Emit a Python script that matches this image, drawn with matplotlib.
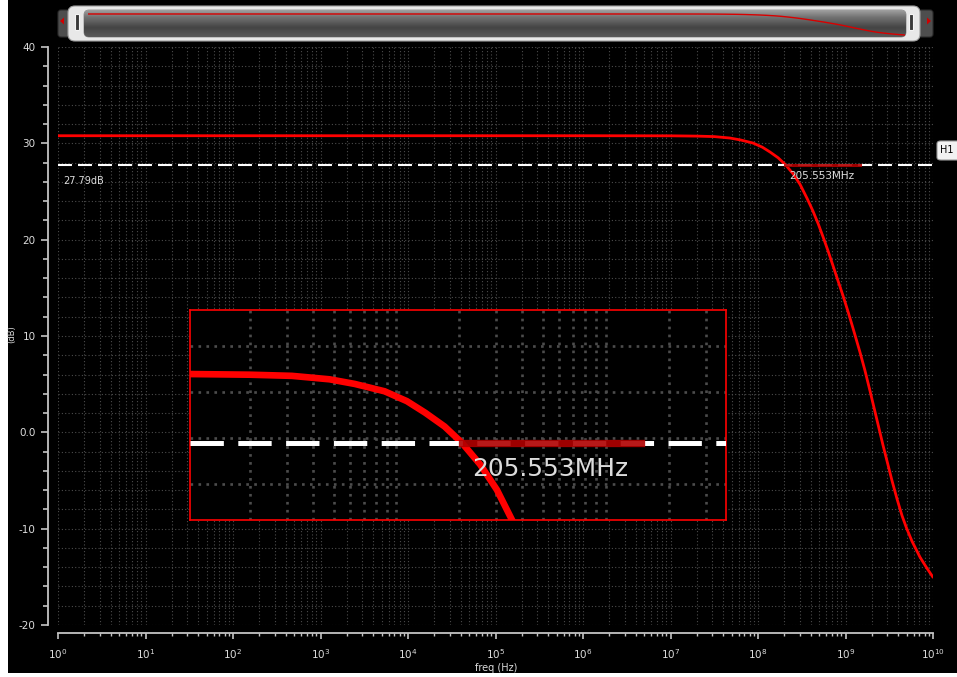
import numpy as np
import matplotlib
matplotlib.use("Agg")
import matplotlib.pyplot as plt
from matplotlib.patches import FancyBboxPatch, Rectangle, Polygon
from matplotlib.colors import LinearSegmentedColormap
from matplotlib.ticker import (MultipleLocator, FixedLocator, FixedFormatter,
                               NullLocator, NullFormatter)

# ---------------------------------------------------------------- data
# magnitude response: log10(frequency / Hz) and gain in dB
log_freq = [0.0, 6.0, 7.0, 7.3, 7.5, 7.68, 7.8, 7.943, 8.05, 8.137, 8.23,
            8.313, 8.40, 8.48, 8.56, 8.629, 8.69, 8.743, 8.80, 8.857, 8.91,
            8.971, 9.03, 9.086, 9.166, 9.22, 9.28, 9.35, 9.429, 9.531, 9.59,
            9.646, 9.70, 9.76, 9.851, 9.93, 10.0]
gain_db = [30.79, 30.79, 30.78, 30.75, 30.70, 30.55, 30.35, 30.03, 29.60,
           29.10, 28.50, 27.79, 26.85, 25.75, 24.30, 22.95, 21.60, 20.30,
           18.85, 17.30, 15.85, 14.20, 12.50, 10.80, 8.30, 6.50, 4.30, 1.65,
           -1.35, -5.00, -6.95, -8.65, -10.00, -11.30, -12.95, -14.10, -15.04]

# horizontal marker H1 and its intercept
marker_db = 27.79
marker_label = "27.79dB"
intercept_freq = 205.553e6
intercept_label = "205.553MHz"
intercept_bar_end = 1.47e9
marker_name = "H1"

y_ticks = [-20, -10, 0, 10, 20, 30, 40]
y_tick_labels = ["-20", "-10", "0.0", "10", "20", "30", "40"]
x_decades = list(range(0, 11))
x_tick_labels = [r"$10^{%d}$" % d for d in x_decades]
x_label = "freq (Hz)"
y_label = "(dB)"

freq = np.power(10.0, log_freq)
x_major = [10.0 ** d for d in x_decades]
x_minor = [m * 10.0 ** d for d in x_decades[:-1] for m in range(2, 10)]

# ---------------------------------------------------------------- figure
W, H, DPI = 957, 677, 100
fig = plt.figure(figsize=(W / DPI, H / DPI), dpi=DPI, facecolor="white")


def px_axes(x0, y0, x1, y1, **kw):
    """Axes placed by pixel box (origin top-left)."""
    return fig.add_axes([x0 / W, 1 - y1 / H, (x1 - x0) / W, (y1 - y0) / H], **kw)


fig.add_artist(Rectangle((8 / W, 4 / H), 1 - 8 / W, 1 - 4 / H,
                         transform=fig.transFigure, facecolor="black",
                         edgecolor="none", zorder=-10))

AX_COL = "#c4c4c4"
TXT_COL = "#dcdcdc"
GRID_COL = "#4c4c4c"
CURVE_COL = "#ff0000"

# ---------------------------------------------------------------- main axes
ax = px_axes(58, 47, 933, 625)
ax.set_facecolor("black")
ax.set_xscale("log")
ax.set_xlim(1, 1e10)
ax.set_ylim(-20, 40)

for s in ("top", "right"):
    ax.spines[s].set_visible(False)
ax.spines["left"].set_position(("outward", 7.2))
ax.spines["bottom"].set_position(("outward", 5.8))
for s in ("left", "bottom"):
    ax.spines[s].set_color(AX_COL)
    ax.spines[s].set_linewidth(1.3)

ax.yaxis.set_major_locator(FixedLocator(y_ticks))
ax.yaxis.set_major_formatter(FixedFormatter(y_tick_labels))
ax.yaxis.set_minor_locator(MultipleLocator(2))
ax.xaxis.set_major_locator(FixedLocator(x_major))
ax.xaxis.set_major_formatter(FixedFormatter(x_tick_labels))
ax.xaxis.set_minor_locator(FixedLocator(x_minor))
ax.xaxis.set_minor_formatter(NullFormatter())

ax.tick_params(axis="y", which="major", direction="out", length=5, width=1.2,
               color=AX_COL, labelcolor=TXT_COL, labelsize=7.5, pad=4)
ax.tick_params(axis="y", which="minor", direction="out", length=3.5, width=1.2,
               color=AX_COL)
ax.tick_params(axis="x", which="major", direction="out", length=4, width=1.2,
               color=AX_COL, labelcolor=TXT_COL, labelsize=7.5, pad=6)
ax.tick_params(axis="x", which="minor", direction="out", length=2.5, width=1.0,
               color=AX_COL)

ax.grid(which="both", color=GRID_COL, linestyle=(0, (1, 2)), linewidth=0.8)
ax.set_axisbelow(True)

ax.plot(freq, gain_db, color=CURVE_COL, lw=2.0, solid_joinstyle="round",
        solid_capstyle="round", zorder=3)
ax.axhline(marker_db, color="white", lw=1.5, ls=(0, (6.7, 2.9)), zorder=4)
ax.plot([intercept_freq, intercept_bar_end], [marker_db, marker_db],
        color="#b00000", lw=2.2, alpha=0.9, zorder=5)
ax.annotate(marker_label, xy=(0, marker_db), xycoords=("axes fraction", "data"),
            xytext=(3.6, -12), textcoords="offset points", color=TXT_COL,
            fontsize=7, ha="left", va="center")
ax.annotate(intercept_label, xy=(intercept_freq, marker_db),
            xytext=(3, -8), textcoords="offset points", color=TXT_COL,
            fontsize=7.5, ha="left", va="center", zorder=6)

fig.text(496 / W, 1 - 668 / H, x_label, color=TXT_COL, fontsize=7,
         ha="center", va="center")
fig.text(12 / W, 1 - 334 / H, y_label, color=TXT_COL, fontsize=6,
         ha="center", va="center", rotation=90)

# marker tag at the right edge
fig.add_artist(FancyBboxPatch((937 / W, 1 - 160 / H), 30 / W, 19 / H,
                              boxstyle="round,pad=0,rounding_size=0.004",
                              transform=fig.transFigure, facecolor="#f2f2f2",
                              edgecolor="#9a9a9a", lw=0.8, zorder=5))
fig.text(947 / W, 1 - 150 / H, marker_name, color="black", fontsize=7,
         ha="center", va="center", zorder=6)

# ---------------------------------------------------------------- magnified view
zoom = 2.39
ax_in = px_axes(190, 310, 726, 520)
ax_in.set_facecolor("black")
ax_in.set_xscale("log")
ax_in.set_xlim(10 ** 7.013, 10 ** 9.575)
ax_in.set_ylim(24.44, 33.56)
ax_in.xaxis.set_major_locator(FixedLocator(x_major))
ax_in.xaxis.set_minor_locator(FixedLocator(x_minor))
ax_in.xaxis.set_major_formatter(NullFormatter())
ax_in.xaxis.set_minor_formatter(NullFormatter())
ax_in.yaxis.set_major_locator(MultipleLocator(2))
ax_in.yaxis.set_minor_locator(NullLocator())
ax_in.yaxis.set_major_formatter(NullFormatter())
ax_in.tick_params(which="both", length=0, labelbottom=False, labelleft=False)
ax_in.grid(which="both", color=GRID_COL, linestyle=(0, (1, 2)), linewidth=0.8 * zoom)
ax_in.set_axisbelow(True)
for s in ax_in.spines.values():
    s.set_color(CURVE_COL)
    s.set_linewidth(1.2)
ax_in.plot(freq, gain_db, color=CURVE_COL, lw=2.0 * zoom, solid_joinstyle="round",
           zorder=3)
ax_in.axhline(marker_db, color="white", lw=1.5 * zoom, ls=(0, (6.7, 2.9)), zorder=4)
ax_in.plot([intercept_freq, intercept_bar_end], [marker_db, marker_db],
           color="#b00000", lw=2.2 * zoom, alpha=0.9, zorder=5)
ax_in.annotate(intercept_label, xy=(intercept_freq, marker_db),
               xytext=(3 * zoom, -8 * zoom), textcoords="offset points",
               color=TXT_COL, fontsize=7.5 * zoom, ha="left", va="center", zorder=6)

# ---------------------------------------------------------------- overview scroll bar
ax_sb = fig.add_axes([0, 1 - 45 / H, 1, 45 / H])
ax_sb.set_xlim(0, W)
ax_sb.set_ylim(45, 0)
ax_sb.axis("off")
ax_sb.patch.set_visible(False)

ax_sb.add_patch(FancyBboxPatch((58, 10), 875, 27, boxstyle="round,pad=0,rounding_size=3",
                               facecolor="#4e4e4e", edgecolor="#2c2c2c", lw=0.8))
ax_sb.add_patch(Polygon([[60, 21], [64, 17.5], [64, 24.5]], closed=True,
                        facecolor="#d00000", edgecolor="none"))
ax_sb.add_patch(Polygon([[931, 21], [927, 17.5], [927, 24.5]], closed=True,
                        facecolor="#d00000", edgecolor="none"))
ax_sb.add_patch(FancyBboxPatch((68, 6), 852, 35, boxstyle="round,pad=0,rounding_size=7",
                               facecolor="#e8e8e8", edgecolor="#a0a0a0", lw=0.8))
inner = FancyBboxPatch((84, 10), 822, 27, boxstyle="round,pad=0,rounding_size=5",
                       facecolor="none", edgecolor="#8a8a8a", lw=0.6)
ax_sb.add_patch(inner)
shade = LinearSegmentedColormap.from_list(
    "shade", [(0.0, "#a0a0a0"), (0.25, "#747474"), (0.65, "#444444"), (1.0, "#5a5a5a")])
img = ax_sb.imshow(np.linspace(0, 1, 64).reshape(-1, 1), cmap=shade, aspect="auto",
                   extent=(84, 906, 37, 10), interpolation="bilinear", zorder=1)
img.set_clip_path(inner)
for hx in (77, 911):
    ax_sb.add_patch(Rectangle((hx - 1.8, 14), 3.6, 16, facecolor="#3a3a3a",
                              edgecolor="#f4f4f4", lw=0.8, zorder=3))

ax_th = px_axes(88, 10, 905, 37)
ax_th.set_zorder(ax_sb.get_zorder() + 1)
ax_th.patch.set_visible(False)
ax_th.axis("off")
ax_th.set_xscale("log")
ax_th.set_xlim(1, 1e10)
ax_th.set_ylim(-19.4, 39.5)
ax_th.xaxis.set_major_locator(NullLocator())
ax_th.xaxis.set_minor_locator(NullLocator())
ax_th.plot(freq, gain_db, color="#d80000", lw=1.0)

fig.savefig("out.png", dpi=DPI, facecolor=fig.get_facecolor())
